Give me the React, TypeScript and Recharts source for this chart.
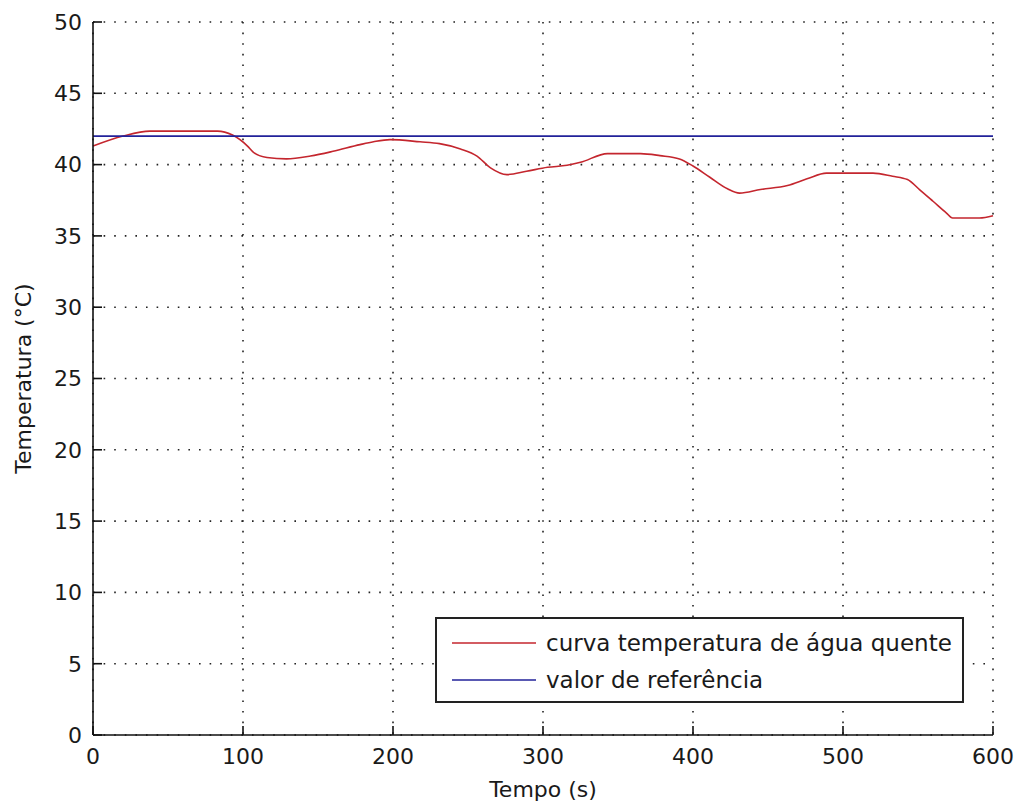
import React from 'react';
import { LineChart, Line, XAxis, YAxis, CartesianGrid, Legend } from 'recharts';

const times = [0, 20, 38, 83, 93, 103, 107, 116, 129, 145, 160, 178, 187, 198, 218, 231, 245, 256, 265, 276, 289, 303, 316, 325, 343, 365, 378, 391, 400, 411, 423, 431, 445, 463, 476, 489, 520, 533, 543, 551, 560, 569, 573, 591, 600];
const temperatures = [41.3, 42.0, 42.35, 42.35, 42.07, 41.3, 40.86, 40.5, 40.4, 40.6, 40.93, 41.4, 41.6, 41.75, 41.6, 41.47, 41.1, 40.6, 39.77, 39.3, 39.53, 39.81, 39.95, 40.16, 40.77, 40.77, 40.63, 40.4, 39.9, 39.13, 38.3, 38.0, 38.25, 38.53, 39.0, 39.4, 39.4, 39.18, 38.95, 38.25, 37.43, 36.6, 36.26, 36.26, 36.42];
const referenceValue = 42;
const xTicks = [0, 100, 200, 300, 400, 500, 600];
const yTicks = [0, 5, 10, 15, 20, 25, 30, 35, 40, 45, 50];
const seriesNames = ['curva temperatura de água quente', 'valor de referência'];
const seriesColors = ['#c4262e', '#22229a'];

const data = times.map((t, i) => ({ t, temp: temperatures[i], ref: referenceValue }));

const FONT = '"DejaVu Sans", Arial, sans-serif';
const TEXT = '#1a1a1a';

const renderLegend = () => (
  <div
    style={{
      boxSizing: 'border-box',
      width: 529,
      height: 86,
      border: '2px solid #222',
      background: '#fff',
      fontFamily: FONT,
      fontSize: 23,
      color: TEXT,
      paddingTop: 5,
      textAlign: 'left',
    }}
  >
    {seriesNames.map((name, i) => (
      <div key={name} style={{ display: 'flex', alignItems: 'center', height: 37 }}>
        <svg width={108} height={10} style={{ marginLeft: 15 }}>
          <line x1={0} y1={5} x2={84} y2={5} stroke={seriesColors[i]} strokeWidth={1.5} />
        </svg>
        <span style={{ marginLeft: -14, lineHeight: '26px' }}>{name}</span>
      </div>
    ))}
  </div>
);

export default function App() {
  return (
    <div style={{ position: 'absolute', left: 0, top: 0, width: 1020, height: 809, background: '#fff' }}>
      <LineChart width={1020} height={809} data={data} margin={{ top: 22, right: 27, bottom: 0, left: 0 }}>
        <CartesianGrid
          xAxisId="bottom"
          yAxisId="left"
          stroke="#222"
          strokeWidth={1.6}
          strokeDasharray="1.6 9"
          horizontalValues={yTicks}
          verticalValues={xTicks}
        />
        <XAxis
          xAxisId="bottom"
          dataKey="t"
          type="number"
          domain={[0, 600]}
          ticks={xTicks}
          interval={0}
          height={74}
          tickSize={-9}
          tickMargin={22}
          axisLine={{ stroke: '#111', strokeWidth: 1.6 }}
          tickLine={{ stroke: '#111', strokeWidth: 1.6 }}
          tick={{ fill: TEXT, fontSize: 22, fontFamily: FONT }}
          label={{
            content: (props: any) => {
              const vb = props.viewBox;
              return (
                <text x={vb.x + vb.width / 2} y={797} textAnchor="middle" fill={TEXT} fontSize={22} fontFamily={FONT}>
                  Tempo (s)
                </text>
              );
            },
          }}
        />
        <XAxis
          xAxisId="top"
          orientation="top"
          dataKey="t"
          type="number"
          domain={[0, 600]}
          ticks={xTicks}
          interval={0}
          height={0}
          tickSize={-9}
          tick={false}
          axisLine={{ stroke: '#111', strokeWidth: 1.6 }}
          tickLine={{ stroke: '#111', strokeWidth: 1.6 }}
        />
        <YAxis
          yAxisId="left"
          type="number"
          domain={[0, 50]}
          ticks={yTicks}
          interval={0}
          width={93}
          tickSize={-9}
          tickMargin={20}
          axisLine={{ stroke: '#111', strokeWidth: 1.6 }}
          tickLine={{ stroke: '#111', strokeWidth: 1.6 }}
          tick={{ fill: TEXT, fontSize: 22, fontFamily: FONT }}
          label={{
            content: (props: any) => {
              const vb = props.viewBox;
              const cy = vb.y + vb.height / 2;
              return (
                <text
                  x={31}
                  y={cy}
                  transform={`rotate(-90, 31, ${cy})`}
                  textAnchor="middle"
                  fill={TEXT}
                  fontSize={22}
                  fontFamily={FONT}
                >
                  Temperatura (°C)
                </text>
              );
            },
          }}
        />
        <YAxis
          yAxisId="right"
          orientation="right"
          type="number"
          domain={[0, 50]}
          ticks={yTicks}
          interval={0}
          width={0}
          tickSize={-9}
          tick={false}
          axisLine={{ stroke: '#111', strokeWidth: 1.6 }}
          tickLine={{ stroke: '#111', strokeWidth: 1.6 }}
        />
        <Line
          xAxisId="bottom"
          yAxisId="left"
          type="monotone"
          dataKey="temp"
          name={seriesNames[0]}
          stroke={seriesColors[0]}
          strokeWidth={1.6}
          dot={false}
          isAnimationActive={false}
        />
        <Line
          xAxisId="bottom"
          yAxisId="left"
          type="linear"
          dataKey="ref"
          name={seriesNames[1]}
          stroke={seriesColors[1]}
          strokeWidth={1.6}
          dot={false}
          isAnimationActive={false}
        />
        <Legend
          layout="horizontal"
          verticalAlign="middle"
          align="center"
          content={renderLegend}
          wrapperStyle={{ position: 'absolute', left: 435, top: 617, width: 529, height: 86 }}
        />
      </LineChart>
    </div>
  );
}
